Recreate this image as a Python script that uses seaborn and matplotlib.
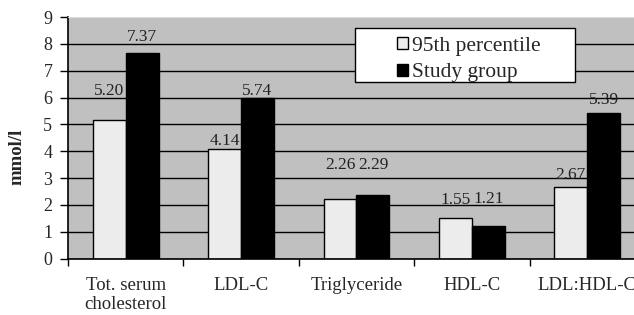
import matplotlib
matplotlib.use("Agg")
import matplotlib.pyplot as plt
import seaborn as sns
import pandas as pd
from matplotlib.patches import Patch, Rectangle
from matplotlib.ticker import FixedLocator

# ---- data ----
categories = ["Tot. serum\ncholesterol", "LDL-C", "Triglyceride", "HDL-C", "LDL:HDL-C"]
series_names = ["95th percentile", "Study group"]
p95_heights = [5.15, 4.10, 2.22, 1.50, 2.66]
study_heights = [7.67, 6.00, 2.37, 1.22, 5.42]
p95_labels = ["5.20", "4.14", "2.26", "1.55", "2.67"]
study_labels = ["7.37", "5.74", "2.29", "1.21", "5.39"]
y_ticks = list(range(0, 10))

# label offsets above bar tops (points) - style only
p95_label_offsets = [21, 5.5, 24.5, 13.5, 9]
study_label_offsets = [11.5, 4.5, 21.5, 19.5, 9.5]

sns.set_style("white")
plt.rcParams["font.family"] = ["Liberation Serif", "DejaVu Serif"]

df = pd.DataFrame({
    "Category": categories * 2,
    "Group": [series_names[0]] * len(categories) + [series_names[1]] * len(categories),
    "Value": p95_heights + study_heights,
})

W, H = 634, 315
fig = plt.figure(figsize=(W / 100, H / 100), dpi=100)
ax = fig.add_axes([68 / W, 56.3 / H, 577 / W, 241.7 / H])
ax.set_facecolor("#c0c0c0")

colors = {series_names[0]: "#ececec", series_names[1]: "#000000"}
sns.barplot(data=df, x="Category", y="Value", hue="Group", order=categories,
            hue_order=series_names, palette=colors, width=0.57,
            edgecolor="black", linewidth=1.0, saturation=1, ax=ax, legend=False,
            zorder=2)

ax.set_xlim(-0.5, len(categories) - 0.5)
ax.set_ylim(0, 9)
ax.set_yticks(y_ticks)
ax.yaxis.grid(True, color="black", linewidth=1.0)
ax.xaxis.grid(False)
ax.set_axisbelow(True)
for gl in ax.yaxis.get_gridlines()[-1:]:
    gl.set_visible(False)

# spines
ax.spines["left"].set_color("black")
ax.spines["left"].set_linewidth(1.2)
ax.spines["bottom"].set_color("black")
ax.spines["bottom"].set_linewidth(1.2)
ax.spines["top"].set_color("#dcdcdc")
ax.spines["right"].set_visible(False)

ax.tick_params(axis="y", which="major", direction="out", length=5.8, width=1.0,
               color="black", pad=5.5, labelsize=13, left=True)
ax.tick_params(axis="x", which="major", length=0, pad=13, labelsize=13.5)
ax.xaxis.set_minor_locator(FixedLocator([i - 0.5 for i in range(len(categories) + 1)]))
ax.tick_params(axis="x", which="minor", direction="out", length=5, width=1.0,
               color="black", bottom=True)
for lab in ax.get_xticklabels():
    lab.set_linespacing(1.2)

ax.set_xlabel("")
ax.set_ylabel("mmol/l", fontsize=13.5, fontweight="bold")
ax.yaxis.set_label_coords(-0.073, 0.42)

# value labels
for container, labels, offs in zip(ax.containers, [p95_labels, study_labels],
                                   [p95_label_offsets, study_label_offsets]):
    for bar, txt, off in zip(container, labels, offs):
        ax.annotate(txt, (bar.get_x() + bar.get_width() / 2, bar.get_height()),
                    xytext=(0, off), textcoords="offset points",
                    ha="center", va="center", fontsize=12.5, color="#222222",
                    zorder=6)

# legend box
rect = Rectangle((0.497, 0.732), 0.382, 0.221, transform=ax.transAxes,
                 facecolor="white", edgecolor="black", linewidth=1.0, zorder=4)
ax.add_patch(rect)
handles = [Patch(facecolor=colors[n], edgecolor="black", linewidth=1.0) for n in series_names]
leg = ax.legend(handles, series_names, loc="upper left", bbox_to_anchor=(0.570, 0.918),
                frameon=False, fontsize=15.5, handlelength=0.5, handleheight=0.5,
                handletextpad=0.2, labelspacing=0.35, borderpad=0, borderaxespad=0)
leg.set_zorder(6)

fig.savefig("out.png", dpi=100, facecolor="white")
